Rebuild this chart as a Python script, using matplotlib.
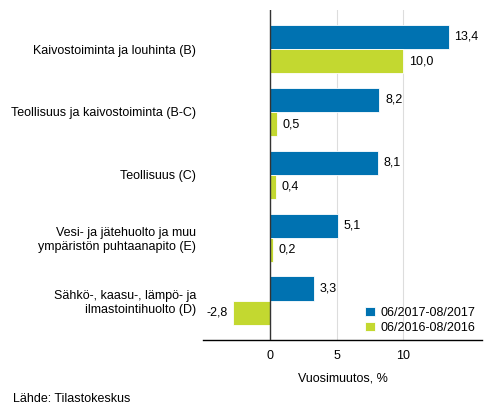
import matplotlib
matplotlib.use("Agg")
import matplotlib.pyplot as plt
import numpy as np

plt.rcParams['font.family'] = ['Liberation Sans', 'DejaVu Sans']

categories = ["Kaivostoiminta ja louhinta (B)",
              "Teollisuus ja kaivostoiminta (B-C)",
              "Teollisuus (C)",
              "Vesi- ja jätehuolto ja muu\nympäristön puhtaanapito (E)",
              "Sähkö-, kaasu-, lämpö- ja\nilmastointihuolto (D)"]
series_names = ["06/2017-08/2017", "06/2016-08/2016"]
values_2017 = [13.4, 8.2, 8.1, 5.1, 3.3]
values_2016 = [10.0, 0.5, 0.4, 0.2, -2.8]
xticks = [0, 5, 10]

colors = ["#0072B1", "#C3D830"]
FS = 9

fig = plt.figure(figsize=(4.93, 4.16), dpi=100)
ax = fig.add_axes([203/493, 76/416, 279/493, 330/416])

y = np.arange(len(categories))
h = 0.385
for vals, off, col, name in [(values_2017, -h/2, colors[0], series_names[0]),
                             (values_2016, h/2, colors[1], series_names[1])]:
    bars = ax.barh(y + off, vals, height=h, color=col, edgecolor="white",
                   linewidth=0.6, label=name, zorder=2)
    for b, v in zip(bars, vals):
        txt = f"{v:.1f}".replace(".", ",")
        if v >= 0:
            ax.annotate(txt, (v, b.get_y() + b.get_height()/2), xytext=(4, 0),
                        textcoords="offset points", ha="left", va="center", fontsize=FS)
        else:
            ax.annotate(txt, (v, b.get_y() + b.get_height()/2), xytext=(-4, 0),
                        textcoords="offset points", ha="right", va="center", fontsize=FS)

ax.set_xlim(-5.05, 15.9)
ax.set_ylim(len(categories) - 1 + 0.625, -0.62)
ax.set_yticks(y)
ax.set_yticklabels(categories, fontsize=FS)
ax.set_xticks(xticks)
ax.set_xticklabels([str(t) for t in xticks], fontsize=FS)
ax.tick_params(axis="y", length=0, pad=5)
ax.tick_params(axis="x", length=0, pad=7)
for s in ["top", "right", "left"]:
    ax.spines[s].set_visible(False)
ax.spines["bottom"].set_color("black")
ax.spines["bottom"].set_linewidth(1.0)
ax.grid(axis="x", color="#dddddd", linewidth=0.8, zorder=0)
ax.axvline(0, color="#333333", linewidth=1.0, zorder=3)
ax.set_xlabel("Vuosimuutos, %", fontsize=FS, labelpad=8)

leg = ax.legend(loc="lower right", frameon=False, fontsize=FS, handlelength=0.75,
                handleheight=0.75, handletextpad=0.5, labelspacing=0.2,
                bbox_to_anchor=(1.0, 0.0), borderaxespad=0.1)

fig.text(13/493, 1 - 399/416, "Lähde: Tilastokeskus", fontsize=FS, ha="left", va="center")

fig.savefig("out.png", dpi=100)
